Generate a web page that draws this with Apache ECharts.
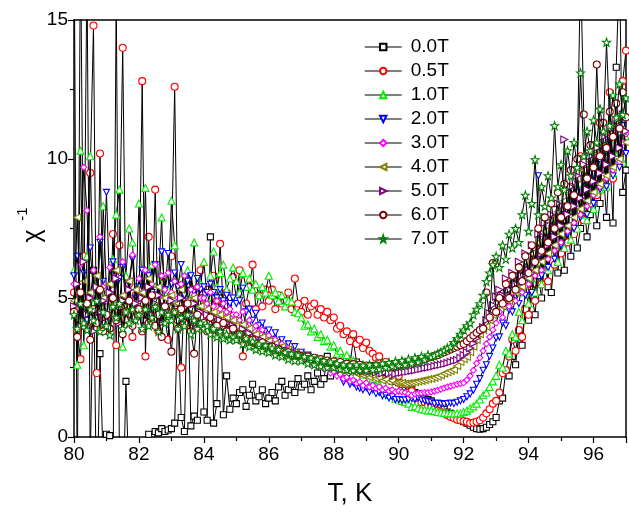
<!DOCTYPE html>
<html><head><meta charset="utf-8">
<script src="https://cdn.jsdelivr.net/npm/echarts@6/dist/echarts.min.js"></script>
<style>html,body{margin:0;padding:0;background:#fff}#c{width:629px;height:514px}</style>
</head><body><div id="c"></div>
<script>
const temps = [80,80.1,80.2,80.3,80.4,80.5,80.6,80.7,80.8,80.9,
81,81.1,81.2,81.3,81.4,81.5,81.6,81.7,81.8,81.9,
82,82.1,82.2,82.3,82.4,82.5,82.6,82.7,82.8,82.9,
83,83.1,83.2,83.3,83.4,83.5,83.6,83.7,83.8,83.9,
84,84.1,84.2,84.3,84.4,84.5,84.6,84.7,84.8,84.9,
85,85.1,85.2,85.3,85.4,85.5,85.6,85.7,85.8,85.9,
86,86.1,86.2,86.3,86.4,86.5,86.6,86.7,86.8,86.9,
87,87.1,87.2,87.3,87.4,87.5,87.6,87.7,87.8,87.9,
88,88.1,88.2,88.3,88.4,88.5,88.6,88.7,88.8,88.9,
89,89.1,89.2,89.3,89.4,89.5,89.6,89.7,89.8,89.9,
90,90.1,90.2,90.3,90.4,90.5,90.6,90.7,90.8,90.9,
91,91.1,91.2,91.3,91.4,91.5,91.6,91.7,91.8,91.9,
92,92.1,92.2,92.3,92.4,92.5,92.6,92.7,92.8,92.9,
93,93.1,93.2,93.3,93.4,93.5,93.6,93.7,93.8,93.9,
94,94.1,94.2,94.3,94.4,94.5,94.6,94.7,94.8,94.9,
95,95.1,95.2,95.3,95.4,95.5,95.6,95.7,95.8,95.9,
96,96.1,96.2,96.3,96.4,96.5,96.6,96.7,96.8,96.9,
97];

const seriesNames = ['0.0T','0.5T','1.0T','2.0T','3.0T','4.0T','5.0T','6.0T','7.0T'];

const chi00 = [19,-2,18,4,17,-1,6,-3,3,-1,
0.1,0.05,-2,16,-1,-3,2,-2,-1,-3,
-2,-1,-2,0.1,-1,0.2,0.15,0.3,0.2,0.25,
0.3,0.5,4.5,0.7,0.2,5.5,0.4,0.75,0.6,5.0,
0.9,0.6,7.2,0.5,1.2,5.0,0.8,2.2,1.0,1.4,
1.2,1.6,1.7,1.1,1.5,1.9,1.3,1.45,1.7,1.2,
1.4,1.6,1.3,1.8,2.0,1.5,1.7,1.9,1.6,2.1,
1.8,1.9,2.2,1.7,2.0,2.3,1.9,2.1,2.9,2.2,
2.4,2.3,2.6,2.5,2.8,2.6,3.5,2.7,2.6,2.5,
2.4,2.5,2.3,2.4,2.2,2.3,2.1,2.2,2.0,2.1,
1.95,1.9,1.8,1.75,1.7,1.6,1.55,1.5,1.4,1.35,
1.3,1.2,1.15,1.05,1.0,0.9,0.85,0.75,0.7,0.6,
0.55,0.5,0.42,0.35,0.3,0.28,0.3,0.35,0.45,0.55,
0.7,1.3,1.4,2.4,2.2,2.9,2.6,3.7,3.3,4.6,
4.2,5.1,4.4,5.8,5.0,6.4,5.4,5.2,6.6,5.9,
7.1,6.0,7.6,6.5,8.1,6.8,7.5,8.6,7.2,8.0,
9.1,7.6,8.4,9.6,7.9,10.2,7.7,13.3,17,8.8,
9.6];

const chi05 = [5.2,3.8,2.8,6.5,4.0,9.5,14.8,2.3,10.2,4.4,
5.0,3.9,7.3,3.3,6.9,14.0,4.2,5.5,3.6,5.1,
4.5,12.8,2.9,7.2,4.1,8.9,3.8,5.6,4.3,3.5,
6.5,12.6,4.2,2.5,5.0,4.6,3.9,5.3,4.4,6.0,
4.7,5.3,4.2,5.8,4.9,6.95,4.5,5.2,3.8,5.75,
5.0,6.0,2.9,4.8,5.4,6.2,4.6,5.1,4.7,5.3,
4.9,5.3,4.6,5.1,4.8,4.9,5.2,4.6,5.7,4.8,
4.5,4.9,4.4,4.7,4.8,4.4,4.6,4.3,4.5,4.2,
4.3,3.9,4.0,3.7,3.8,3.45,3.7,3.35,3.5,3.2,
3.4,3.1,3.0,2.85,2.9,2.6,2.7,2.4,2.5,2.2,
2.2,1.9,1.9,1.6,1.65,1.4,1.45,1.25,1.25,1.1,
1.07,1.0,0.95,0.9,0.85,0.78,0.72,0.68,0.62,0.6,
0.57,0.55,0.5,0.52,0.55,0.6,0.7,0.85,1.0,1.2,
1.3,1.6,2.3,2.4,2.9,3.5,3.1,3.85,3.6,4.6,
4.4,5.3,4.9,6.3,5.5,6.8,5.6,7.4,6.2,7.9,
6.6,8.2,7.0,9.0,7.3,8.6,10.1,7.8,9.6,8.4,
10.5,8.7,11.3,9.4,10.0,12.4,9.3,11.0,10.2,12.8,
13.9];

const chi10 = [6.0,2.6,10.3,3.3,6.5,10.1,4.8,5.5,3.9,8.3,
5.2,4.6,6.4,8.0,8.9,3.25,5.8,7.5,7.0,4.9,
8.4,5.1,8.96,4.5,6.2,4.8,5.6,7.9,4.4,5.3,
8.5,6.9,4.9,5.7,4.3,6.0,5.2,7.0,4.6,5.5,
6.3,5.0,5.8,6.67,5.4,5.9,6.2,5.3,5.7,6.1,
5.6,5.2,5.9,5.4,5.7,5.3,5.5,5.1,5.4,5.2,
5.8,5.1,5.2,4.9,5.1,4.7,4.9,4.87,4.5,4.45,
4.3,4.0,4.05,3.8,3.9,3.6,3.7,3.45,3.5,3.25,
3.3,3.0,3.1,2.85,2.95,2.7,2.75,2.45,2.5,2.25,
2.3,2.05,2.1,1.85,1.9,1.7,1.7,1.5,1.55,1.38,
1.35,1.3,1.26,1.2,1.08,1.1,1.05,1.0,0.98,0.95,
0.96,0.93,0.9,0.88,0.87,0.85,0.85,0.84,0.85,0.85,
0.9,0.95,1.03,1.1,1.2,1.35,1.5,1.6,1.8,2.0,
2.2,2.6,2.5,3.1,3.0,3.7,3.6,4.5,4.2,5.2,
4.8,5.7,5.2,6.3,5.5,6.9,6.0,6.6,7.4,6.3,
7.6,6.8,8.2,7.1,8.7,7.5,8.0,9.1,7.8,9.4,
8.2,9.8,8.9,10.3,9.0,10.7,9.5,10.1,11.0,9.9,
10.8];

const chi20 = [5.8,6.5,4.6,5.9,4.2,6.8,5.1,4.5,7.0,5.6,
8.8,5.2,6.3,4.9,5.7,6.1,4.7,5.5,6.4,5.0,
5.4,6.0,4.8,5.8,5.2,6.2,5.0,6.66,5.3,6.6,
5.5,5.9,5.4,6.2,5.1,5.6,5.8,5.2,5.7,5.3,
5.4,5.2,5.5,5.2,5.0,5.3,4.9,5.1,4.8,5.0,
4.8,4.9,5.35,4.5,4.6,4.2,4.45,4.0,4.1,3.8,
3.85,3.5,3.75,3.4,3.5,3.2,3.35,3.1,3.25,3.0,
3.05,2.85,2.95,2.75,2.8,2.6,2.65,2.5,2.5,2.35,
2.35,2.2,2.25,1.98,2.1,1.9,1.95,1.8,1.75,1.7,
1.78,1.62,1.7,1.56,1.6,1.48,1.5,1.4,1.45,1.35,
1.35,1.32,1.33,1.35,1.38,1.36,1.4,1.33,1.3,1.27,
1.25,1.2,1.22,1.2,1.18,1.2,1.22,1.2,1.25,1.3,
1.35,1.45,1.55,1.68,1.9,2.1,2.4,2.6,2.9,3.2,
3.56,3.6,4.1,4.0,4.57,4.5,5.0,4.8,5.5,5.1,
5.6,5.2,6.3,9.4,5.8,6.9,6.1,7.3,6.4,7.8,
6.9,8.0,7.3,8.5,7.5,8.8,7.9,9.2,8.0,9.5,
8.4,9.8,8.9,10.1,9.0,10.6,9.4,10.9,9.7,11.2,
10.2];

const chi30 = [5.5,4.6,6.2,9.7,8.15,5.0,6.0,4.3,7.2,5.4,
4.9,6.1,5.3,5.8,4.7,6.3,5.1,5.6,6.55,4.8,
5.7,5.2,6.0,4.9,5.5,6.2,5.0,5.8,5.3,5.9,
5.2,5.6,5.0,5.5,5.8,4.9,5.3,5.1,5.4,5.0,
5.0,4.8,5.2,4.7,4.9,4.6,4.8,4.5,4.6,4.4,
4.4,4.2,4.5,4.0,4.2,3.9,4.0,3.8,3.85,3.6,
3.65,3.45,3.5,3.3,3.35,3.1,3.2,3.0,3.05,2.85,
2.95,2.8,2.85,2.65,2.75,2.55,2.6,2.45,2.5,2.3,
2.35,2.2,2.25,2.1,2.15,2.0,2.05,1.93,1.98,1.85,
1.95,1.8,1.86,1.75,1.8,1.7,1.76,1.66,1.7,1.62,
1.65,1.62,1.6,1.55,1.5,1.55,1.57,1.58,1.6,1.6,
1.62,1.65,1.68,1.72,1.76,1.8,1.83,1.86,1.9,1.92,
1.95,2.05,2.2,2.4,2.65,2.85,3.1,3.35,3.6,3.85,
4.1,4.5,4.3,4.9,4.7,5.2,4.9,5.6,5.2,6.0,
5.5,6.3,5.8,6.8,6.0,7.2,6.4,7.6,6.7,8.0,
7.0,8.3,7.4,8.8,7.7,9.2,8.0,9.6,8.3,9.9,
8.7,10.1,9.0,10.5,9.3,10.8,9.6,11.0,9.9,10.6,
10.9];

const chi40 = [4.9,7.9,4.2,5.6,4.5,5.2,3.9,5.8,4.6,5.0,
4.4,5.5,4.8,6.0,4.3,5.1,4.7,5.6,4.5,5.3,
4.8,5.2,4.4,5.7,4.6,4.9,5.4,4.2,5.0,4.7,
5.1,4.5,4.8,5.3,4.4,4.9,4.6,5.0,4.3,4.7,
4.5,4.6,4.3,4.5,4.2,4.4,4.1,4.3,4.0,4.2,
4.0,3.85,4.05,3.75,3.9,3.65,3.7,3.55,3.6,3.45,
3.45,3.3,3.35,3.2,3.25,3.1,3.15,3.0,3.05,2.9,
2.95,2.82,2.88,2.75,2.8,2.67,2.72,2.6,2.65,2.52,
2.55,2.45,2.5,2.38,2.43,2.33,2.38,2.28,2.32,2.22,
2.25,2.15,2.2,2.1,2.13,2.03,2.07,1.98,2.02,1.94,
1.95,1.94,1.92,1.93,1.95,1.97,2.0,2.02,2.05,2.08,
2.1,2.13,2.17,2.22,2.28,2.33,2.38,2.42,2.55,2.7,
2.8,2.88,3.05,3.25,3.49,3.7,3.85,3.97,4.2,4.4,
4.57,4.9,4.7,5.3,4.9,5.6,5.2,5.9,5.4,6.3,
5.7,6.6,6.0,7.0,6.3,7.4,6.6,7.8,6.9,8.1,
7.3,8.5,7.6,8.9,7.9,9.3,8.2,9.6,8.5,10.0,
8.8,10.2,9.1,10.5,9.4,10.9,9.7,11.2,10.0,11.0,
10.6];

const chi50 = [4.7,5.5,4.0,6.3,4.4,5.0,3.8,5.4,4.5,4.9,
4.3,5.2,4.6,5.7,4.1,4.9,4.5,5.3,4.2,4.8,
4.6,5.0,4.2,5.4,4.4,4.8,5.1,4.1,4.7,4.5,
4.9,4.3,4.6,5.0,4.2,4.7,4.4,4.8,4.1,4.5,
4.3,4.4,4.1,4.3,4.0,4.2,3.95,4.1,3.85,4.0,
3.8,3.7,3.88,3.6,3.72,3.5,3.55,3.42,3.47,3.33,
3.35,3.24,3.27,3.14,3.18,3.06,3.1,2.98,3.03,2.93,
2.97,2.88,2.91,2.81,2.85,2.74,2.78,2.68,2.71,2.6,
2.63,2.55,2.59,2.5,2.55,2.47,2.51,2.42,2.47,2.38,
2.43,2.35,2.4,2.32,2.37,2.29,2.35,2.28,2.33,2.27,
2.3,2.32,2.34,2.36,2.38,2.4,2.43,2.45,2.48,2.5,
2.52,2.55,2.58,2.6,2.63,2.66,2.7,2.74,2.77,2.85,
2.95,3.05,3.2,3.37,3.55,3.75,3.95,4.2,4.45,4.75,
5.05,5.3,5.1,5.7,5.3,5.9,5.5,6.3,5.8,6.6,
6.0,6.9,6.3,7.3,6.6,7.7,6.9,8.0,7.2,8.4,
7.6,10.7,8.0,9.0,8.3,9.4,8.6,9.8,8.9,10.1,
9.2,10.4,9.5,10.8,9.8,11.1,10.1,11.4,10.4,11.6,
11.0];

const chi60 = [4.5,3.6,5.2,4.0,4.8,3.5,4.6,4.1,5.3,3.8,
4.4,3.9,5.0,4.2,4.7,3.7,4.5,4.9,4.0,4.3,
4.6,3.8,4.9,4.1,5.1,4.0,4.4,3.6,4.7,4.2,
3.07,4.5,3.9,4.6,4.1,4.8,3.8,3.0,4.4,4.0,
4.1,3.8,4.3,3.9,4.0,3.7,4.1,3.8,3.6,3.9,
3.6,3.7,3.5,3.55,3.4,3.5,3.35,3.3,3.4,3.25,
3.2,3.25,3.1,3.15,3.05,3.0,3.05,2.95,2.9,2.95,
2.9,2.85,2.9,2.8,2.85,2.75,2.8,2.72,2.75,2.7,
2.72,2.62,2.7,2.58,2.64,2.55,2.62,2.5,2.6,2.5,
2.57,2.48,2.56,2.47,2.55,2.5,2.57,2.5,2.6,2.55,
2.6,2.62,2.65,2.68,2.7,2.72,2.75,2.78,2.8,2.85,
2.88,2.92,2.95,3.0,3.05,3.1,3.15,3.2,3.25,3.3,
3.35,3.45,3.55,3.65,3.75,3.85,3.9,5.2,4.3,6.26,
4.5,5.0,4.8,5.5,5.0,5.8,5.3,6.1,5.6,6.5,
5.9,6.9,6.3,7.5,6.7,7.9,7.0,8.4,7.5,8.8,
7.9,9.1,8.3,9.6,8.7,10.0,17,11.6,9.3,10.5,
9.7,13.4,10.1,11.3,10.4,11.7,10.8,12.0,11.1,12.4,
11.5];

const chi70 = [4.4,3.9,4.8,4.1,3.85,4.6,4.2,4.9,3.8,4.5,
4.0,3.67,4.7,4.3,4.8,3.9,4.5,4.1,4.6,4.2,
4.4,3.9,4.6,4.0,4.3,4.7,3.8,4.5,4.1,4.4,
4.2,4.5,3.9,4.3,4.0,4.4,3.7,4.2,3.9,4.1,
3.9,4.0,3.7,3.9,3.6,3.8,3.55,3.7,3.5,3.6,
3.5,3.7,3.35,3.55,3.25,3.45,3.15,3.35,3.1,3.3,
3.05,3.2,2.95,3.15,2.9,3.05,2.8,3.0,2.75,2.95,
2.75,2.9,2.65,2.85,2.6,2.8,2.55,2.75,2.5,2.7,
2.5,2.65,2.45,2.6,2.42,2.58,2.4,2.6,2.4,2.58,
2.4,2.6,2.42,2.62,2.45,2.65,2.5,2.68,2.55,2.72,
2.58,2.75,2.6,2.8,2.65,2.85,2.7,2.9,2.78,2.95,
2.88,2.92,3.0,3.05,3.12,3.2,3.25,3.4,3.55,3.7,
3.85,4.0,4.1,4.4,4.6,4.8,5.1,5.6,5.9,6.2,
6.5,6.1,6.9,6.4,7.3,6.8,7.5,7.0,8.0,8.7,
7.4,8.4,9.98,8.0,9.0,8.3,9.4,8.6,11.2,9.0,
9.8,8.9,10.3,9.4,10.6,9.7,13.1,10.1,11.0,10.3,
11.4,10.6,11.8,11.0,14.2,11.2,12.3,11.5,12.7,11.6,
12.2];

const allValues = [chi00, chi05, chi10, chi20, chi30, chi40, chi50, chi60, chi70];

const colors = ['#000000','#ff0000','#00ee00','#0000ff','#ff00ff','#808000','#800080','#800000','#008000'];
const symbols = ['rect','circle','triangle','path://M0,0L10,0L5,10Z','diamond',
  'path://M10,0L0,5L10,10Z','path://M0,0L10,5L0,10Z','circle',
  'path://M5,0L6.2,3.6L10,3.7L7,6L8.1,9.6L5,7.5L1.9,9.6L3,6L0,3.7L3.8,3.6Z'];
const sizes = [6,7,7,6,6,7,7,7,8];

const FONT = 'Liberation Sans, Arial, sans-serif';

const series = seriesNames.map((name, k) => ({
  name: name,
  type: 'line',
  data: temps.map((t, i) => [t, allValues[k][i]]),
  symbol: symbols[k],
  symbolSize: sizes[k],
  showAllSymbol: true,
  clip: true,
  lineStyle: { color: '#000', width: 1 },
  itemStyle: { color: '#fff', borderColor: colors[k], borderWidth: 1.1 },
  emphasis: { disabled: true },
  z: 2 + k
}));

const chart = echarts.init(document.getElementById('c'), null, { renderer: 'canvas' });
chart.setOption({
  animation: false,
  backgroundColor: '#fff',
  textStyle: { fontFamily: FONT },
  grid: { left: 74, right: 1, top: 20, bottom: 77, containLabel: false },
  legend: {
    orient: 'vertical', left: 359, top: 32,
    itemWidth: 37, itemHeight: 8, itemGap: 4,
    textStyle: { fontSize: 19, lineHeight: 20, color: '#000', fontFamily: FONT, padding: [0,0,0,4] },
    lineStyle: { color: '#555', width: 1.5 },
    data: seriesNames
  },
  xAxis: [{
    type: 'value', min: 80, max: 97, interval: 2,
    name: 'T, K', nameLocation: 'middle', nameGap: 44,
    nameTextStyle: { fontSize: 26, color: '#000', fontFamily: FONT },
    axisLine: { show: true, lineStyle: { color: '#000', width: 1.5 } },
    axisTick: { show: true, inside: false, length: 6, lineStyle: { color: '#000', width: 1.2 } },
    minorTick: { show: true, splitNumber: 2, length: 4, lineStyle: { color: '#000', width: 1.2 } },
    axisLabel: { fontSize: 19, color: '#000', margin: 8, fontFamily: FONT,
      formatter: v => (Math.abs(v % 2) < 1e-9 ? String(v) : '') },
    splitLine: { show: false }
  }, {
    type: 'value', min: 80, max: 97, position: 'top',
    axisLine: { show: true, onZero: false, lineStyle: { color: '#000', width: 1.5 } },
    axisTick: { show: false }, axisLabel: { show: false }, splitLine: { show: false }
  }],
  yAxis: [{
    type: 'value', min: 0, max: 15, interval: 5,
    axisLine: { show: true, lineStyle: { color: '#000', width: 1.5 } },
    axisTick: { show: true, inside: false, length: 6, lineStyle: { color: '#000', width: 1.2 } },
    minorTick: { show: true, splitNumber: 2, length: 4, lineStyle: { color: '#000', width: 1.2 } },
    axisLabel: { fontSize: 19, color: '#000', margin: 6, fontFamily: FONT },
    splitLine: { show: false }
  }, {
    type: 'value', min: 0, max: 15, position: 'right',
    axisLine: { show: true, onZero: false, lineStyle: { color: '#000', width: 1.5 } },
    axisTick: { show: false }, axisLabel: { show: false }, splitLine: { show: false }
  }],
  graphic: [
    { type: 'text', x: 33, y: 236, rotation: Math.PI / 2,
      style: { text: 'χ', font: '25px ' + FONT, fill: '#000', textAlign: 'center', textVerticalAlign: 'middle' } },
    { type: 'text', x: 23, y: 214, rotation: Math.PI / 2,
      style: { text: '-1', font: '15px ' + FONT, fill: '#000', textAlign: 'center', textVerticalAlign: 'middle' } }
  ],
  series: series
});
</script>
</body></html>
